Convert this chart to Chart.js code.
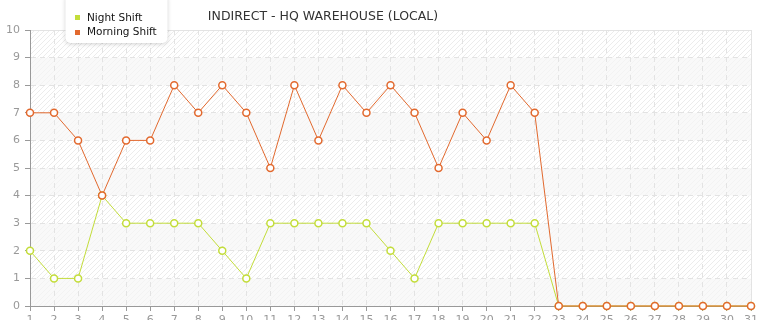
<!DOCTYPE html>
<html><head><meta charset="utf-8">
<script src="https://cdn.jsdelivr.net/npm/chart.js@4/dist/chart.umd.min.js"></script>
<style>html,body{margin:0;padding:0;background:#fff;}#wrap{width:765px;height:320px;position:relative;}</style>
</head><body><div id="wrap"><canvas id="c" width="765" height="320"></canvas></div>
<script>
const days = ['1','2','3','4','5','6','7','8','9','10','11','12','13','14','15','16','17','18','19','20','21','22','23','24','25','26','27','28','29','30','31'];
const nightShift = [2,1,1,4,3,3,3,3,2,1,3,3,3,3,3,2,1,3,3,3,3,3,0,0,0,0,0,0,0,0,0];
const morningShift = [7,7,6,4,6,6,8,7,8,7,5,8,6,8,7,8,7,5,7,6,8,7,0,0,0,0,0,0,0,0,0];
const yTicks = [0,1,2,3,4,5,6,7,8,9,10];
const chartTitle = 'INDIRECT - HQ WAREHOUSE (LOCAL)';
const seriesNames = ['Night Shift','Morning Shift'];

const NIGHT = '#c3dd3a';
const MORNING = '#e2692e';
const FONT = '"DejaVu Sans", Verdana, sans-serif';

function makeHatch(ctx, bg, line) {
  const n = 5;
  const p = document.createElement('canvas');
  p.width = n; p.height = n;
  const g = p.getContext('2d');
  g.fillStyle = bg; g.fillRect(0,0,n,n);
  g.strokeStyle = line; g.lineWidth = 1;
  g.beginPath();
  g.moveTo(0,n); g.lineTo(n,0);
  g.moveTo(-n/2,n/2); g.lineTo(n/2,-n/2);
  g.moveTo(n/2,n*1.5); g.lineTo(n*1.5,n/2);
  g.stroke();
  return ctx.createPattern(p, 'repeat');
}

const bgPlugin = {
  id: 'bands',
  beforeDraw(chart) {
    const {ctx, chartArea: a, scales: {y}} = chart;
    const strong = makeHatch(ctx, '#ffffff', '#ececec');
    const soft = makeHatch(ctx, '#f9f9f9', '#f3f3f3');
    ctx.save();
    for (let i = 0; i < yTicks.length - 1; i++) {
      const y0 = y.getPixelForValue(yTicks[i]);
      const y1 = y.getPixelForValue(yTicks[i+1]);
      ctx.fillStyle = (i % 2 === 1) ? strong : soft;
      ctx.fillRect(a.left, y1, a.right - a.left, y0 - y1);
    }
    ctx.strokeStyle = '#e4e4e4'; ctx.lineWidth = 1;
    ctx.beginPath();
    ctx.moveTo(a.left, a.top + 0.5); ctx.lineTo(a.right + 0.5, a.top + 0.5);
    ctx.lineTo(a.right + 0.5, a.bottom);
    ctx.stroke();
    ctx.restore();
  },
  afterDraw(chart) {
    const ctx = chart.ctx;
    ctx.save();
    ctx.font = '12.5px ' + FONT;
    ctx.fillStyle = '#333';
    ctx.textAlign = 'center'; ctx.textBaseline = 'middle';
    ctx.fillText(chartTitle, 323, 17);
    const bx = 65.5, by = -6, bw = 102, bh = 49, r = 5;
    ctx.save();
    ctx.shadowColor = 'rgba(0,0,0,0.18)';
    ctx.shadowBlur = 4; ctx.shadowOffsetY = 1;
    ctx.fillStyle = '#fff';
    ctx.beginPath();
    ctx.roundRect(bx, by, bw, bh, r);
    ctx.fill();
    ctx.restore();
    ctx.font = '10.5px ' + FONT;
    ctx.textAlign = 'left';
    ctx.fillStyle = NIGHT; ctx.fillRect(75, 15, 5, 5);
    ctx.fillStyle = MORNING; ctx.fillRect(75, 30, 5, 5);
    ctx.fillStyle = '#111';
    ctx.fillText(seriesNames[0], 87, 18);
    ctx.fillText(seriesNames[1], 87, 32);
    ctx.restore();
  }
};

function ds(label, data, color) {
  return {
    label, data,
    borderColor: color, borderWidth: 1,
    pointRadius: 3.5, pointHoverRadius: 3.5,
    pointBackgroundColor: '#fff', pointBorderColor: color, pointBorderWidth: 1.5,
    tension: 0, clip: false, fill: false
  };
}

new Chart(document.getElementById('c'), {
  type: 'line',
  data: { labels: days, datasets: [ds(seriesNames[1], morningShift, MORNING), ds(seriesNames[0], nightShift, NIGHT)] },
  options: {
    responsive: false, animation: false, devicePixelRatio: 1,
    layout: { padding: { left: 0, right: 14, top: 30, bottom: 0 } },
    plugins: { legend: { display: false }, title: { display: false }, tooltip: { enabled: false } },
    scales: {
      x: {
        offset: false,
        grid: { color: '#e3e3e3', tickColor: '#999', tickLength: 5, tickBorderDash: [], drawOnChartArea: true },
        border: { color: '#999', dash: [5,4] },
        ticks: { color: '#999', font: { family: FONT, size: 11 }, padding: 3, maxRotation: 0, autoSkip: false },
        afterFit(s) { s.height = 14; s.paddingLeft = 0; s.paddingRight = 0; }
      },
      y: {
        min: 0, max: 10,
        grid: { color: '#e3e3e3', tickColor: '#999', tickLength: 5, tickBorderDash: [] },
        border: { color: '#999', dash: [5,4] },
        ticks: { color: '#999', font: { family: FONT, size: 11 }, padding: 5, stepSize: 1 },
        afterFit(s) { s.width = 30; s.paddingTop = 0; s.paddingBottom = 0; }
      }
    }
  },
  plugins: [bgPlugin]
});
</script></body></html>
